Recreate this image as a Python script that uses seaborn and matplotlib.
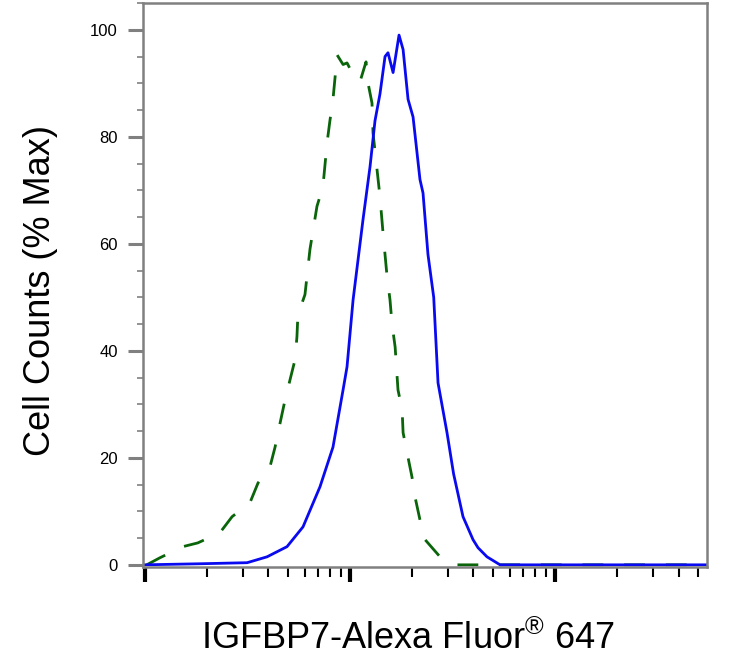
import matplotlib
matplotlib.use("Agg")
import matplotlib.pyplot as plt
import matplotlib.ticker as mticker
import numpy as np
import pandas as pd
import seaborn as sns

# IGFBP7 stained sample (solid blue)
stained_x = [98, 185, 315, 394, 493, 590, 714, 826, 925, 967, 1035, 1157, 1252,
             1324, 1400, 1482, 1532, 1622, 1734, 1815, 1919, 2030, 2194, 2270,
             2400, 2560, 2687, 2972, 3200, 3557, 3981, 4210, 4656, 5393, 55100]
stained_y = [0, 0.2, 0.4, 1.5, 3.4, 7.1, 14.6, 22, 32.7, 37, 49.5, 64.5, 74.4,
             83, 88, 95, 95.7, 92, 99, 96.3, 87, 83.7, 72, 69.5,
             58, 50, 34, 24.7, 17, 9, 4.7, 3.2, 1.5, 0, 0]

# control (dashed green)
control_x = [102, 118, 153, 181, 232, 266, 325, 356, 407, 431, 456, 482, 510,
             539, 551, 557, 603, 638, 661, 690, 738, 773, 798, 826, 845, 865,
             925, 967, 1023, 1119, 1197, 1225, 1280, 1295, 1355, 1400, 1449,
             1515, 1567, 1603, 1660, 1714, 1795, 1815, 1897, 2006, 2075, 2194,
             2323, 2748, 3326, 55100]
control_y = [0, 1.3, 3.4, 4.1, 6, 9, 11.6, 15.3, 18.3, 22, 26.5, 30.8, 34.6,
             38.3, 42.6, 46.7, 50.5, 59, 62.6, 67, 70.7, 78.9, 83, 87, 91, 95.3,
             93.5, 93.8, 92, 90.3, 94, 90, 86.3, 80.7, 73.8, 68.8, 62,
             54, 49.5, 45, 40.7, 32.7, 29, 24.7, 21, 16.4, 12.7, 8.4,
             4.7, 1.5, 0, 0]

y_ticks = [0, 20, 40, 60, 80, 100]

stained = pd.DataFrame({"x": stained_x, "y": stained_y})
control = pd.DataFrame({"x": control_x, "y": control_y})

sns.set_style("white")
plt.rcParams["font.family"] = ["Liberation Sans", "DejaVu Sans"]
plt.rcParams["mathtext.fontset"] = "custom"
plt.rcParams["mathtext.rm"] = "Liberation Sans"
plt.rcParams["text.color"] = "black"
plt.rcParams["axes.labelcolor"] = "black"

fig = plt.figure(figsize=(7.47, 6.65), dpi=100)
ax = fig.add_axes([0.1914, 0.1474, 0.7551, 0.8481])

sns.lineplot(data=control, x="x", y="y", ax=ax, color="#0a640a", lw=2.0,
             linestyle=(0, (7.5, 7.5)), sort=False, estimator=None)
sns.lineplot(data=stained, x="x", y="y", ax=ax, color="#0a0af0", lw=2.0,
             sort=False, estimator=None)

ax.set_xscale("log")
ax.set_xlim(97.8, 55100)
ax.set_ylim(-0.4, 105)

ax.xaxis.set_major_locator(mticker.LogLocator(base=10, numticks=10))
ax.xaxis.set_minor_locator(mticker.LogLocator(base=10, subs=np.arange(2, 10), numticks=10))
ax.xaxis.set_major_formatter(mticker.NullFormatter())
ax.xaxis.set_minor_formatter(mticker.NullFormatter())
ax.set_yticks(y_ticks)
ax.yaxis.set_minor_locator(mticker.MultipleLocator(5))

ax.tick_params(axis="x", which="major", bottom=True, length=11, width=3, color="black")
ax.tick_params(axis="x", which="minor", bottom=True, length=7, width=1.5, color="black")
ax.tick_params(axis="y", which="major", left=True, length=11, width=2.2, color="#808080",
               labelsize=12, labelcolor="black", pad=7)
ax.tick_params(axis="y", which="minor", left=True, length=4.5, width=1.2, color="#808080")

for s in ax.spines.values():
    s.set_color("#808080")
    s.set_linewidth(1.8)

ax.set_xlabel("IGFBP7-Alexa Fluor$^{\\mathrm{®}}$ 647", fontsize=26)
ax.xaxis.set_label_coords(0.47, -0.095, transform=ax.transAxes)
ax.xaxis.label.set_va("top")
ax.set_ylabel("Cell Counts (% Max)", fontsize=26)
ax.yaxis.set_label_coords(-0.151, 0.49)

fig.savefig("out.png", dpi=100)
